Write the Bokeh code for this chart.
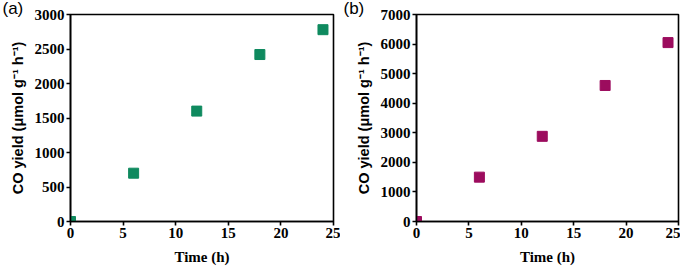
from bokeh.plotting import figure
from bokeh.layouts import row
from bokeh.embed import file_html
from bokeh.resources import INLINE

time_h = [0, 6, 12, 18, 24]
yield_a = [0, 700, 1600, 2420, 2780]
yield_b = [0, 1500, 2880, 4600, 6050]
x_ticks = [0, 5, 10, 15, 20, 25]
y_ticks_a = [0, 500, 1000, 1500, 2000, 2500, 3000]
y_ticks_b = [0, 1000, 2000, 3000, 4000, 5000, 6000, 7000]

def make(xs, ys, yticks, ymax, color, tag, w, bl, br, off):
    p = figure(width=w, height=267, x_range=(0, 25), y_range=(0, ymax),
               output_backend="svg", toolbar_location=None, title=tag,
               min_border_left=bl, min_border_right=br, min_border_top=0, min_border_bottom=44)
    p.scatter(xs, ys, marker="square", size=10, color=color, line_color=color)
    p.grid.visible = False
    p.outline_line_color = "black"
    p.outline_line_width = 1.6
    p.xaxis.ticker = x_ticks
    p.yaxis.ticker = yticks
    for ax in (p.xaxis, p.yaxis):
        ax.axis_line_width = 1.6
        ax.major_tick_line_width = 1.6
        ax.major_tick_in = 0
        ax.major_tick_out = 4
        ax.major_label_text_font = "Liberation Serif"
        ax.major_label_text_font_style = "bold"
        ax.major_label_text_font_size = "15px"
        ax.major_label_text_color = "black"
        ax.major_label_standoff = 2
        ax.axis_label_text_color = "black"
        ax.axis_label_text_font_style = "bold"
    p.xaxis.minor_tick_line_color = None
    p.yaxis.minor_tick_line_color = None
    p.xaxis.axis_label = "Time (h)"
    p.xaxis.axis_label_text_font = "Liberation Serif"
    p.xaxis.axis_label_text_font_size = "15px"
    p.xaxis.axis_label_standoff = 8
    p.yaxis.axis_label = "CO yield (μmol g⁻¹ h⁻¹)"
    p.yaxis.axis_label_text_font = "Liberation Sans"
    p.yaxis.axis_label_text_font_size = "14.5px"
    p.yaxis.axis_label_standoff = 6
    p.title.align = "left"
    p.title.offset = off
    p.title.standoff = -7
    p.title.text_font = "Liberation Sans"
    p.title.text_font_style = "normal"
    p.title.text_font_size = "17px"
    p.title.text_color = "black"
    return p

pa = make(time_h, yield_a, y_ticks_a, 3000, "#0f8a5f", "(a)", 340, 70, 7, -68)
pb = make(time_h, yield_b, y_ticks_b, 7000, "#9c0c5e", "(b)", 340, 76, 2, -73)

layout = row(pa, pb)
open("out.html", "w").write(file_html(layout, INLINE))
